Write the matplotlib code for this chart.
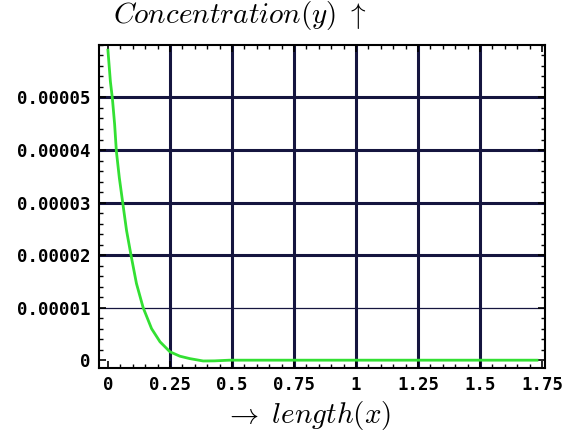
import matplotlib
matplotlib.use("Agg")
import matplotlib.pyplot as plt
from matplotlib.ticker import MultipleLocator, FixedLocator

plt.rcParams['mathtext.fontset'] = 'cm'

# Data
x_vals = [0.0, 0.010, 0.018, 0.027, 0.034, 0.046, 0.059, 0.075, 0.093, 0.115, 0.142,
          0.176, 0.21, 0.25, 0.29, 0.33, 0.384, 0.43, 0.49, 0.75, 1.0, 1.25, 1.5, 1.73]
y_vals = [5.9e-5, 5.3e-5, 4.98e-5, 4.49e-5, 3.98e-5, 3.47e-5, 3.02e-5, 2.47e-5, 2.0e-5, 1.46e-5, 1.0e-5,
          0.6e-5, 3.5e-6, 1.6e-6, 0.76e-6, 0.3e-6, -0.15e-6, -0.13e-6, 0.0, 0.0, 0.0, 0.0, 0.0, 0.0]

x_ticks = [0, 0.25, 0.5, 0.75, 1, 1.25, 1.5, 1.75]
x_tick_labels = ['0', '0.25', '0.5', '0.75', '1', '1.25', '1.5', '1.75']
y_ticks = [0, 1e-5, 2e-5, 3e-5, 4e-5, 5e-5]
y_tick_labels = ['0', '0.00001', '0.00002', '0.00003', '0.00004', '0.00005']

x_grid = [0.25, 0.5, 0.75, 1.0, 1.25, 1.5]
y_grid_heavy = [2e-5, 3e-5, 4e-5, 5e-5]
y_grid_light = [1e-5]

fig = plt.figure(figsize=(5.67, 4.32), dpi=100)
ax = fig.add_axes([0.1746, 0.148, 0.7864, 0.748])

grid_color = '#15153f'
for gx in x_grid:
    ax.axvline(gx, color=grid_color, lw=2.2, zorder=1)
for gy in y_grid_heavy:
    ax.axhline(gy, color=grid_color, lw=2.2, zorder=1)
for gy in y_grid_light:
    ax.axhline(gy, color=grid_color, lw=0.9, zorder=1)

ax.plot(x_vals, y_vals, color='#33e033', lw=2.0, zorder=3)

ax.set_xlim(-0.036, 1.762)
ax.set_ylim(-1.5e-6, 6.0e-5)

ax.xaxis.set_major_locator(FixedLocator(x_ticks))
ax.set_xticklabels(x_tick_labels)
ax.yaxis.set_major_locator(FixedLocator(y_ticks))
ax.set_yticklabels(y_tick_labels)
ax.xaxis.set_minor_locator(MultipleLocator(0.05))
ax.yaxis.set_minor_locator(MultipleLocator(2e-6))

ax.tick_params(which='both', direction='in', top=True, right=True, color='black')
ax.tick_params(which='major', length=5, width=1.2, pad=6)
ax.tick_params(which='minor', length=3, width=1.0)

for lab in ax.get_xticklabels() + ax.get_yticklabels():
    lab.set_fontfamily('DejaVu Sans Mono')
    lab.set_fontweight('bold')
    lab.set_fontsize(12.5)

for s in ax.spines.values():
    s.set_linewidth(1.5)
    s.set_color('black')

fig.text(0.199, 0.925, r'$Concentration(y)\ \uparrow$', fontsize=21, ha='left', va='bottom')
fig.text(0.543, 0.038, r'$\rightarrow\ length(x)$', fontsize=21, ha='center', va='center')

fig.savefig('out.png', dpi=100)
